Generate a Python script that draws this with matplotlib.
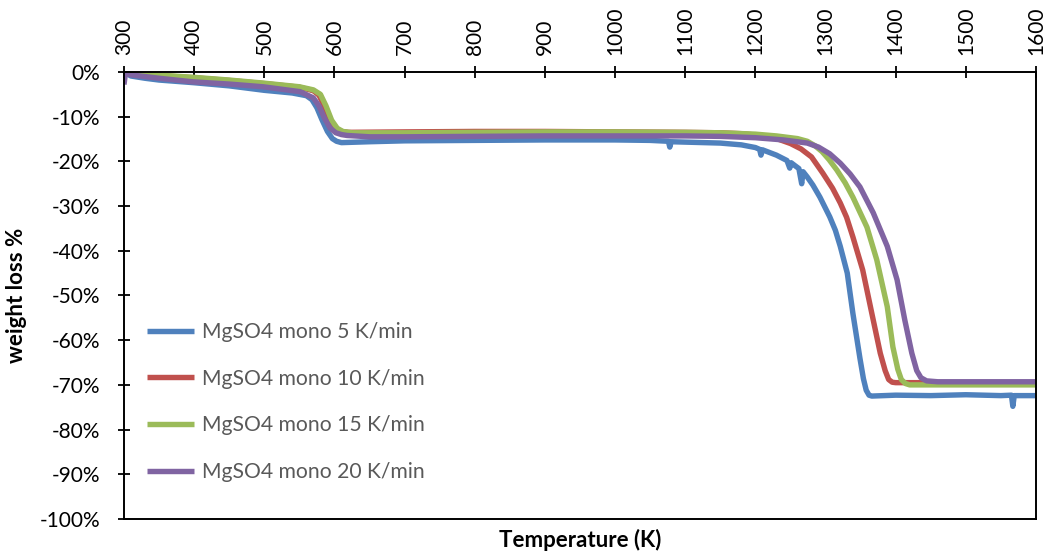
import matplotlib
matplotlib.use('Agg')
import matplotlib.pyplot as plt
from matplotlib.ticker import FuncFormatter, MultipleLocator

plt.rcParams['font.family'] = ['Lato', 'DejaVu Sans']

# TGA runs, temperature in K, weight change in %
t_5 = [300, 310, 330, 350, 400, 450, 500, 540, 560, 568, 575, 582, 590, 597,
       603, 610, 650, 700, 800, 900, 1000, 1050, 1076, 1078, 1080, 1150, 1180,
       1200, 1206, 1208, 1210, 1230, 1245, 1249, 1251, 1256, 1262, 1266, 1268,
       1274, 1282, 1292, 1306, 1314, 1321, 1331, 1339, 1349, 1354, 1358, 1362,
       1366, 1400, 1450, 1500, 1550, 1565, 1567, 1569, 1600]
w_5 = [0, -0.9, -1.4, -1.8, -2.4, -3.1, -4.1, -4.7, -5.3, -6.2, -8.0, -10.6,
       -13.3, -14.9, -15.5, -15.8, -15.6, -15.4, -15.3, -15.2, -15.2, -15.3,
       -15.5, -16.8, -15.6, -15.9, -16.3, -16.9, -17.3, -18.6, -17.4, -18.6,
       -19.8, -21.5, -20.3, -20.9, -21.6, -25.0, -22.3, -23.5, -25.3, -28.0,
       -32.4, -35.4, -39.0, -45.0, -54.0, -64.0, -68.6, -71.2, -72.3, -72.5,
       -72.3, -72.4, -72.2, -72.4, -72.3, -74.8, -72.4, -72.4]

t_10 = [300, 350, 400, 450, 500, 550, 570, 578, 586, 594, 602, 610, 620, 700,
        800, 900, 1000, 1100, 1150, 1180, 1200, 1225, 1250, 1265, 1280, 1296,
        1310, 1321, 1330, 1339, 1353, 1366, 1378, 1385, 1390, 1395, 1400, 1500,
        1600]
w_10 = [0, -0.8, -1.3, -1.9, -2.6, -3.4, -4.2, -5.2, -7.8, -11.0, -12.8, -13.3,
        -13.5, -13.4, -13.3, -13.3, -13.4, -13.5, -13.6, -13.8, -14.1, -14.6,
        -16.0, -17.2, -19.0, -22.6, -26.0, -29.3, -32.5, -36.9, -44.3, -54.0,
        -62.9, -66.8, -68.8, -69.4, -69.5, -69.5, -69.5]

t_15 = [300, 350, 400, 450, 500, 550, 570, 580, 588, 596, 604, 612, 625, 700,
        800, 900, 1000, 1100, 1150, 1200, 1230, 1260, 1274, 1285, 1295, 1305,
        1316, 1328, 1339, 1359, 1373, 1388, 1396, 1403, 1408, 1414, 1420, 1500,
        1600]
w_15 = [0, -0.7, -1.2, -1.8, -2.5, -3.3, -4.0, -5.0, -7.6, -10.8, -12.6, -13.3,
        -13.6, -13.6, -13.5, -13.4, -13.4, -13.5, -13.6, -13.9, -14.3, -14.9,
        -15.5, -16.5, -17.8, -19.6, -21.9, -24.8, -28.0, -34.7, -42.0, -52.5,
        -61.5, -66.5, -68.8, -69.7, -70.0, -70.0, -70.0]

t_20 = [300, 302, 313, 350, 398, 450, 498, 551, 570, 578, 586, 594, 602, 610,
        618, 650, 700, 800, 900, 1000, 1100, 1150, 1200, 1240, 1274, 1290, 1306,
        1321, 1335, 1349, 1368, 1388, 1402, 1413, 1423, 1430, 1436, 1444, 1460,
        1500, 1600]
w_20 = [-2.8, -0.4, -0.7, -1.4, -2.2, -2.7, -3.3, -4.4, -5.8, -7.6, -10.4,
        -12.6, -13.6, -14.0, -14.2, -14.5, -14.5, -14.4, -14.3, -14.3, -14.3,
        -14.4, -14.7, -15.2, -15.9, -16.8, -18.3, -20.4, -22.8, -25.7, -31.5,
        -39.0, -46.5, -55.5, -62.9, -66.8, -68.4, -69.1, -69.3, -69.3, -69.3]

labels = ['MgSO4 mono 5 K/min', 'MgSO4 mono 10 K/min',
          'MgSO4 mono 15 K/min', 'MgSO4 mono 20 K/min']
colors = ['#4F81BD', '#C0504D', '#9BBB59', '#8064A2']

fig = plt.figure(figsize=(10.49, 5.53), dpi=100)
ax = fig.add_axes([0.1182, 0.0615, 0.8694, 0.8083])

runs = [(t_5, w_5), (t_10, w_10), (t_15, w_15), (t_20, w_20)]
for (t, w), lab, c in zip(runs, labels, colors):
    ax.plot(t, w, color=c, lw=3.9, label=lab, solid_joinstyle='round',
            solid_capstyle='butt')

ax.set_xlim(300, 1600)
ax.set_ylim(-100, 0)
ax.xaxis.set_major_locator(MultipleLocator(100))
ax.yaxis.set_major_locator(MultipleLocator(10))
ax.yaxis.set_major_formatter(FuncFormatter(lambda v, p: '%d%%' % round(v)))

ax.xaxis.tick_top()
ax.tick_params(axis='x', which='major', direction='inout', length=8, width=1.3,
               labelsize=15, labelrotation=90, pad=8)
ax.tick_params(axis='y', which='major', direction='inout', length=8, width=1.3,
               labelsize=15, pad=13)
for s in ax.spines.values():
    s.set_linewidth(1.4)
    s.set_color('black')

ax.xaxis.set_label_position('bottom')
ax.set_xlabel('Temperature (K)', fontsize=16, fontweight='bold', labelpad=7)
ax.set_ylabel('weight loss %', fontsize=16, fontweight='bold', labelpad=9)

leg = ax.legend(loc='upper left', bbox_to_anchor=(0.004, 0.483), frameon=False,
                fontsize=15.2, handlelength=2.23, handletextpad=0.38,
                labelspacing=1.26)
for txt in leg.get_texts():
    txt.set_color('#595959')

fig.savefig('out.png', dpi=100)
